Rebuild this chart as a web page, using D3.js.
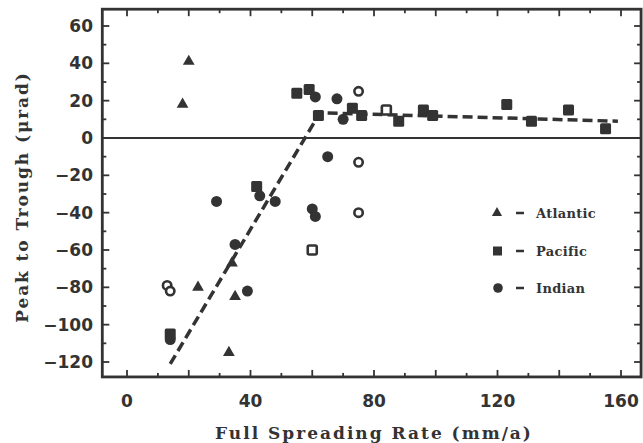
<!DOCTYPE html>
<html>
<head>
<meta charset="utf-8">
<script src="https://cdn.jsdelivr.net/npm/d3@7"></script>
<style>
  body { margin: 0; background: #fff; }
  text { font-family: "DejaVu Sans", sans-serif; font-weight: bold; fill: #333; }
  .serif { font-family: "DejaVu Serif", serif; }
</style>
</head>
<body>
<div id="chart"></div>
<script>
// data
const atlanticX = [18, 20, 23, 33, 34, 35]
const atlanticY = [18, 41, -80, -115, -67, -85]

const pacificX = [14, 42, 55, 59, 62, 73, 76, 88, 96, 99, 123, 131, 143, 155]
const pacificY = [-105, -26, 24, 26, 12, 16, 12, 9, 15, 12, 18, 9, 15, 5]

const indianX = [14, 29, 35, 39, 43, 48, 60, 61, 61, 65, 68, 70]
const indianY = [-108, -34, -57, -82, -31, -34, -38, -42, 22, -10, 21, 10]

const openCircleX = [13, 14, 75, 75, 75]
const openCircleY = [-79, -82, 25, -13, -40]
const openSquareX = [60, 84]
const openSquareY = [-60, 15]

const fitX = [14, 62.5, 159]
const fitY = [-121, 13.5, 9]

const xTicks = [0, 40, 80, 120, 160]
const yTicks = [60, 40, 20, 0, -20, -40, -60, -80, -100, -120]
const legendLabels = ["Atlantic", "Pacific", "Indian"]

const ink = "#333"
const width = 643, height = 443

const svg = d3.select("#chart").append("svg")
  .attr("width", width)
  .attr("height", height)

// scales
const x = d3.scaleLinear().domain([0, 160]).range([127, 621])
const y = d3.scaleLinear().domain([-120, 60]).range([362, 26])
const xMin = -8, xMax = 166.5, yMin = -128, yMax = 69

// frame
svg.append("rect")
  .attr("x", x(xMin)).attr("y", y(yMax))
  .attr("width", x(xMax) - x(xMin)).attr("height", y(yMin) - y(yMax))
  .attr("fill", "none").attr("stroke", ink).attr("stroke-width", 2.8)

// ticks: bottom/top and left/right, pointing inward
const xMinor = d3.range(0, 161, 10), yMinor = d3.range(-120, 61, 10)
const g = svg.append("g").attr("stroke", ink).attr("stroke-width", 1.8)
xMinor.forEach(v => {
  const len = v % 20 === 0 ? 7 : 4
  g.append("line").attr("x1", x(v)).attr("x2", x(v)).attr("y1", y(yMin)).attr("y2", y(yMin) - len)
  g.append("line").attr("x1", x(v)).attr("x2", x(v)).attr("y1", y(yMax)).attr("y2", y(yMax) + len)
})
yMinor.forEach(v => {
  const len = v % 20 === 0 ? 7 : 4
  g.append("line").attr("x1", x(xMin)).attr("x2", x(xMin) + len).attr("y1", y(v)).attr("y2", y(v))
  g.append("line").attr("x1", x(xMax)).attr("x2", x(xMax) - len).attr("y1", y(v)).attr("y2", y(v))
})

// zero line
svg.append("line")
  .attr("x1", x(xMin)).attr("x2", x(xMax))
  .attr("y1", y(0)).attr("y2", y(0))
  .attr("stroke", ink).attr("stroke-width", 2)

// tick labels
svg.selectAll(".xlab").data(xTicks).enter().append("text")
  .attr("x", d => x(d)).attr("y", 407)
  .attr("text-anchor", "middle").attr("font-size", 17)
  .text(d => d)

svg.selectAll(".ylab").data(yTicks).enter().append("text")
  .attr("x", 93).attr("y", d => y(d) + 6)
  .attr("text-anchor", "end").attr("font-size", 17)
  .text(d => d < 0 ? "\u2212" + Math.abs(d) : d)

// axis titles
svg.append("text").attr("class", "serif")
  .attr("x", 374).attr("y", 439)
  .attr("text-anchor", "middle").attr("font-size", 17)
  .attr("letter-spacing", 2)
  .text("Full Spreading Rate (mm/a)")

svg.append("text").attr("class", "serif")
  .attr("transform", "translate(28,197) rotate(-90)")
  .attr("text-anchor", "middle").attr("font-size", 17)
  .attr("letter-spacing", 1.9)
  .text("Peak to Trough (\u03bcrad)")

// fit line
svg.append("path")
  .datum(fitX.map((d, i) => [d, fitY[i]]))
  .attr("d", d3.line().x(d => x(d[0])).y(d => y(d[1])))
  .attr("fill", "none").attr("stroke", ink)
  .attr("stroke-width", 3.5).attr("stroke-dasharray", "10,5")

// markers
const tri = d3.symbol().type(d3.symbolTriangle).size(60)
const sq = 11, cr = 5.5

svg.selectAll(".atl").data(atlanticX).enter().append("path")
  .attr("d", tri)
  .attr("transform", (d, i) => `translate(${x(d)},${y(atlanticY[i])})`)
  .attr("fill", ink)

svg.selectAll(".pac").data(pacificX).enter().append("rect")
  .attr("x", d => x(d) - sq / 2).attr("y", (d, i) => y(pacificY[i]) - sq / 2)
  .attr("width", sq).attr("height", sq).attr("rx", 1.5)
  .attr("fill", ink)

svg.selectAll(".ind").data(indianX).enter().append("circle")
  .attr("cx", d => x(d)).attr("cy", (d, i) => y(indianY[i]))
  .attr("r", cr).attr("fill", ink)

svg.selectAll(".oc").data(openCircleX).enter().append("circle")
  .attr("cx", d => x(d)).attr("cy", (d, i) => y(openCircleY[i]))
  .attr("r", 4.2).attr("fill", "#fff").attr("stroke", ink).attr("stroke-width", 2.6)

svg.selectAll(".os").data(openSquareX).enter().append("rect")
  .attr("x", d => x(d) - 4.5).attr("y", (d, i) => y(openSquareY[i]) - 4.5)
  .attr("width", 9).attr("height", 9).attr("rx", 1.5)
  .attr("fill", "#fff").attr("stroke", ink).attr("stroke-width", 2.6)

// legend
const legend = svg.append("g")
const ly = [213, 251, 288]
legend.append("path").attr("d", d3.symbol().type(d3.symbolTriangle).size(45))
  .attr("transform", `translate(497,${ly[0]})`).attr("fill", ink)
legend.append("rect").attr("x", 493).attr("y", ly[1] - 4.5).attr("width", 9).attr("height", 9).attr("fill", ink)
legend.append("circle").attr("cx", 498).attr("cy", ly[2]).attr("r", 4.8).attr("fill", ink)
legendLabels.forEach((t, i) => {
  legend.append("line").attr("x1", 516).attr("x2", 524).attr("y1", ly[i]).attr("y2", ly[i])
    .attr("stroke", ink).attr("stroke-width", 2.5)
  legend.append("text").attr("class", "serif").attr("x", 536).attr("y", ly[i] + 5)
    .attr("font-size", 13).attr("letter-spacing", 0.3).text(t)
})
</script>
</body>
</html>
